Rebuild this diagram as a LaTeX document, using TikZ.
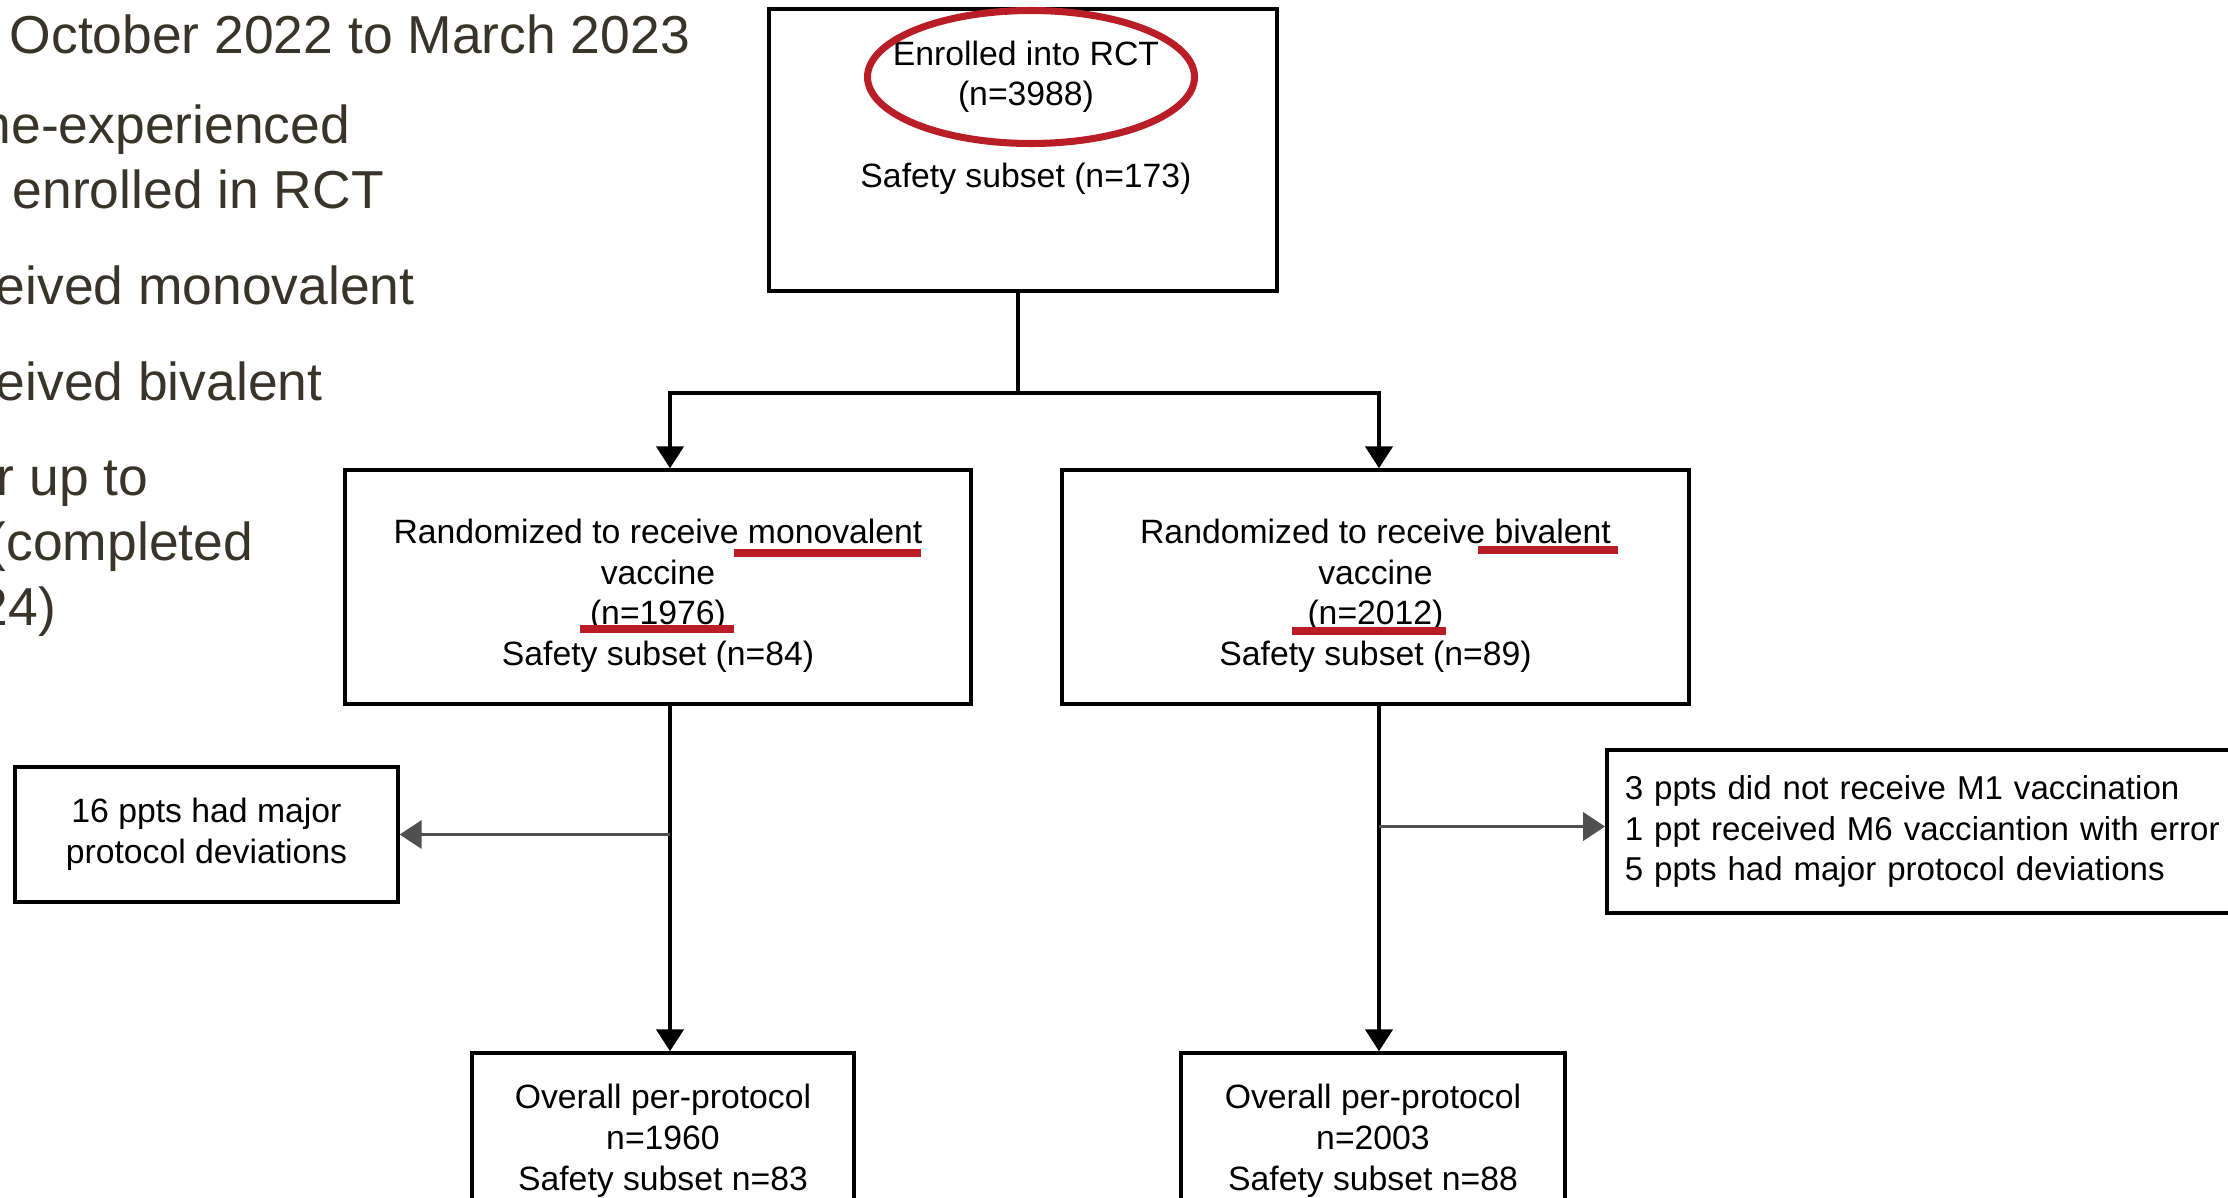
\documentclass[tikz,border=0pt]{standalone}
\usepackage{fontspec}
\setmainfont{Liberation Sans}
\usepackage{xcolor}
\usepackage{tikz}
\usetikzlibrary{arrows.meta,calc}
\definecolor{markred}{HTML}{B91E27}
\definecolor{slidetext}{HTML}{38342A}
\definecolor{arrowgray}{HTML}{505050}

\begin{document}
\begin{tikzpicture}[line width=1pt]
      \tikzstyle{box} = [draw,align=center,inner sep=0pt,font=\fontsize{9.6}{11.6}\selectfont]
      \tikzstyle{boxtext} = [align=center,inner sep=0pt,font=\fontsize{9.6}{11.6}\selectfont]
      \tikzstyle{slide} = [anchor=base west,inner sep=0pt,text=slidetext,font=\fontsize{15.2}{18.2}\selectfont]
      \tikzstyle{flow} = [-{Triangle[length=6.2pt,width=7.7pt]}]
      \tikzstyle{sideflow} = [arrowgray,line width=0.85pt,-{Triangle[length=6.2pt,width=8pt]}]
      \tikzstyle{redline} = [markred,line width=2.2pt]
      \tikzstyle{ring} = [markred,line width=2pt]
      %
      \useasboundingbox (0,0) rectangle (22.28,-11.98);
      \clip (0,0) rectangle (22.28,-11.98);

      % Slide text on the left, cut by the page edge.
      \node[slide] (period) at (0.08,-0.53) {October 2022 to March 2023};
      \node[slide] (naive) at (-0.20,-1.43) {ne-experienced};
      \node[slide] (enrolled) at (0.11,-2.08) {enrolled in RCT};
      \node[slide] (gotmono) at (-0.06,-3.04) {eived monovalent};
      \node[slide] (gotbiv) at (-0.06,-4.00) {eived bivalent};
      \node[slide] (follow) at (-0.05,-4.95) {r up to};
      \node[slide] (completed) at (-0.13,-5.60) {(completed};
      \node[slide] (year) at (-0.23,-6.25) {24)};

      % First row.
      \node[box,minimum width=5.08cm,minimum height=2.82cm] (rct) at (10.23,-1.50) {};
      \node[boxtext] (rcttext) at (10.26,-1.175) {Enrolled into RCT\\(n=3988)\\[11.6pt]Safety subset (n=173)};

      % Second row.
      \node[box,minimum width=6.26cm,minimum height=2.34cm] (mono) at (6.58,-5.87)
            {\rule{0pt}{12pt}Randomized to receive monovalent\\vaccine\\(n=1976)\\Safety subset (n=84)};
      \node[box,minimum width=6.27cm,minimum height=2.34cm] (biv) at (13.755,-5.87)
            {\rule{0pt}{12pt}Randomized to receive bivalent\\vaccine\\(n=2012)\\Safety subset (n=89)};

      % Third row.
      \node[box,minimum width=3.83cm,minimum height=1.35cm] (monoexcl) at (2.065,-8.345)
            {16 ppts had major\\protocol deviations};
      \node[box,align=left,text width=6.2cm,inner xsep=0.18cm,minimum height=1.63cm,anchor=west,
            font=\fontsize{9.4}{11.6}\selectfont] (bivexcl) at (16.05,-8.315)
            {3 ppts did not receive M1 vaccination\\1 ppt received M6 vacciantion with error\\5 ppts had major protocol deviations};

      % Fourth row.
      \node[box,minimum width=3.82cm,minimum height=1.76cm] (monopp) at (6.63,-11.41)
            {Overall per-protocol\\n=1960\\Safety subset n=83};
      \node[box,minimum width=3.84cm,minimum height=1.76cm] (bivpp) at (13.73,-11.41)
            {Overall per-protocol\\n=2003\\Safety subset n=88};

      % Draw lines.
      \coordinate (fork) at (10.18,-3.93);
      \coordinate (leftcol) at (6.70,-3.93);
      \coordinate (rightcol) at (13.79,-3.93);
      \draw (rct.south -| fork) -- (fork);
      \draw[flow] (fork) -- (leftcol) -- (leftcol |- mono.north);
      \draw[flow] (fork) -- (rightcol) -- (rightcol |- biv.north);
      \draw[flow] (leftcol |- mono.south) -- (leftcol |- monopp.north);
      \draw[flow] (rightcol |- biv.south) -- (rightcol |- bivpp.north);
      \draw[sideflow] (leftcol |- monoexcl.east) -- (monoexcl.east);
      \draw[sideflow] ($(rightcol |- bivexcl.west)+(0,0.05)$) -- ($(bivexcl.west)+(0,0.05)$);

      % Red marks.
      \draw[ring] (10.31,-0.77) ellipse (1.635 and 0.665);
      \draw[redline] (7.34,-5.53) -- (9.21,-5.53);
      \draw[redline] (5.80,-6.29) -- (7.34,-6.29);
      \draw[redline] (14.78,-5.50) -- (16.18,-5.50);
      \draw[redline] (12.92,-6.31) -- (14.46,-6.31);
\end{tikzpicture}
\end{document}
